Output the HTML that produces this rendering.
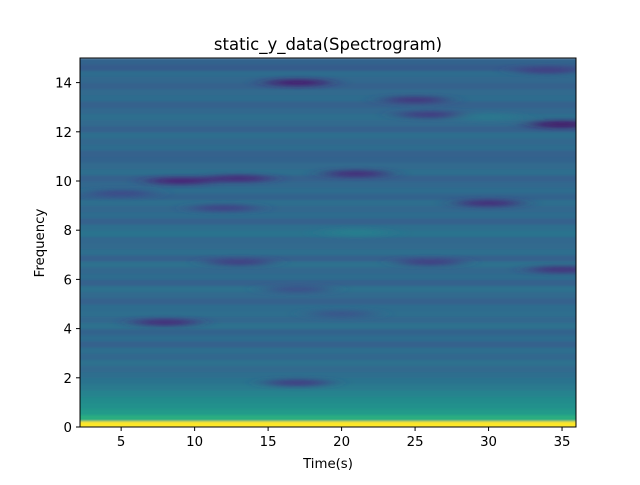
<!DOCTYPE html>
<html><head><meta charset="utf-8"><style>
body{margin:0;background:#fff;font-family:"Liberation Sans","DejaVu Sans",sans-serif}
svg text{font-family:"DejaVu Sans","Liberation Sans",sans-serif}
</style></head><body>
<svg id="c" width="640" height="480">
<defs>
<clipPath id="clip"><rect x="80" y="58" width="496" height="369"/></clipPath>
<filter id="bl" x="-20%" y="-20%" width="140%" height="140%"><feGaussianBlur stdDeviation="0 1"/></filter>
<filter id="bl2" x="-50%" y="-50%" width="200%" height="200%"><feGaussianBlur stdDeviation="12 2.5"/></filter>
</defs>
<g id="plot" clip-path="url(#clip)" filter="url(#bl)"></g>
<g id="spots" clip-path="url(#clip)" filter="url(#bl2)"></g>
<rect x="80" y="58" width="496" height="369" fill="none" stroke="#000" stroke-width="1"/>
<g id="axes"></g>
<text x="328" y="50" text-anchor="middle" font-size="16.5">static_y_data(Spectrogram)</text>
<text x="328" y="468" text-anchor="middle" font-size="13.3">Time(s)</text>
<text x="0" y="0" transform="translate(44,243) rotate(-90)" text-anchor="middle" font-size="13.3">Frequency</text>
</svg>
<script>
// frequency rows (0.25 Hz each, from 0 upward), intensity 0..1
const rowValues=[1.0,0.62,0.54,0.5,0.48,0.45,0.41,0.38,0.36,0.34,0.37,0.33,0.36,0.31,0.35,0.32,0.37,0.33,0.36,0.35,0.31,0.34,0.37,0.31,0.35,0.33,0.37,0.31,0.36,0.34,0.33,0.38,0.36,0.31,0.35,0.33,0.36,0.32,0.35,0.33,0.31,0.36,0.34,0.32,0.31,0.35,0.33,0.36,0.31,0.34,0.36,0.33,0.31,0.35,0.34,0.31,0.33,0.35,0.29,0.32];
// features: time, frequency, intensity
const spotTimes=[8,9,13,17,21,25,26,30,35,34,17,17,13,35,26,21,12,5,30,20];
const spotFreqs=[4.25,10,10.1,14,10.3,13.3,12.7,9.1,12.3,14.5,1.8,5.6,6.7,6.4,6.7,7.9,8.9,9.5,12.6,4.6];
const spotVals=[0.12,0.1,0.12,0.08,0.12,0.15,0.17,0.12,0.06,0.18,0.18,0.24,0.18,0.14,0.18,0.43,0.2,0.22,0.4,0.26];
const xTicks=[5,10,15,20,25,30,35];
const yTicks=[0,2,4,6,8,10,12,14];
const x0=2.2,x1=35.95,y0=0,y1=15;
const X=v=>80+(v-x0)/(x1-x0)*496;
const Y=v=>427-(v-y0)/(y1-y0)*369;
const stops=[[68,1,84],[72,40,120],[62,74,137],[49,104,142],[38,130,142],[31,158,137],[53,183,121],[109,205,89],[180,222,44],[253,231,37]];
function vir(t){t=Math.max(0,Math.min(1,t))*9;const i=Math.min(8,Math.floor(t)),f=t-i;const a=stops[i],b=stops[i+1];return `rgb(${a.map((c,k)=>Math.round(c+(b[k]-c)*f)).join(',')})`;}
const NS="http://www.w3.org/2000/svg";
const plot=document.getElementById('plot'),spots=document.getElementById('spots'),axes=document.getElementById('axes');
rowValues.forEach((v,i)=>{const r=document.createElementNS(NS,'rect');
r.setAttribute('x',70);r.setAttribute('y',Y((i+1)*0.25));r.setAttribute('width',520);r.setAttribute('height',Y(i*0.25)-Y((i+1)*0.25)+0.5);r.setAttribute('fill',vir(v));


plot.appendChild(r);});
spotTimes.forEach((t,i)=>{const e=document.createElementNS(NS,'ellipse');
e.setAttribute('cx',X(t));e.setAttribute('cy',Y(spotFreqs[i]));e.setAttribute('rx',32);e.setAttribute('ry',3.5);e.setAttribute('fill',vir(spotVals[i]));


spots.appendChild(e);});
function line(x1_,y1_,x2_,y2_){const l=document.createElementNS(NS,'line');l.setAttribute('x1',x1_);l.setAttribute('y1',y1_);l.setAttribute('x2',x2_);l.setAttribute('y2',y2_);l.setAttribute('stroke','#000');return l;}
function txt(x,y,s,a){const t=document.createElementNS(NS,'text');t.setAttribute('x',x);t.setAttribute('y',y);t.setAttribute('font-size','13.3');t.setAttribute('text-anchor',a);t.textContent=s;return t;}
xTicks.forEach(v=>{const l=line(X(v),427,X(v),431);


axes.appendChild(l);const t=txt(X(v),446,String(v),'middle');


axes.appendChild(t);});
yTicks.forEach(v=>{const l=line(76,Y(v),80,Y(v));


axes.appendChild(l);const t=txt(72,Y(v)+5,String(v),'end');


axes.appendChild(t);});
</script>
</body></html>
